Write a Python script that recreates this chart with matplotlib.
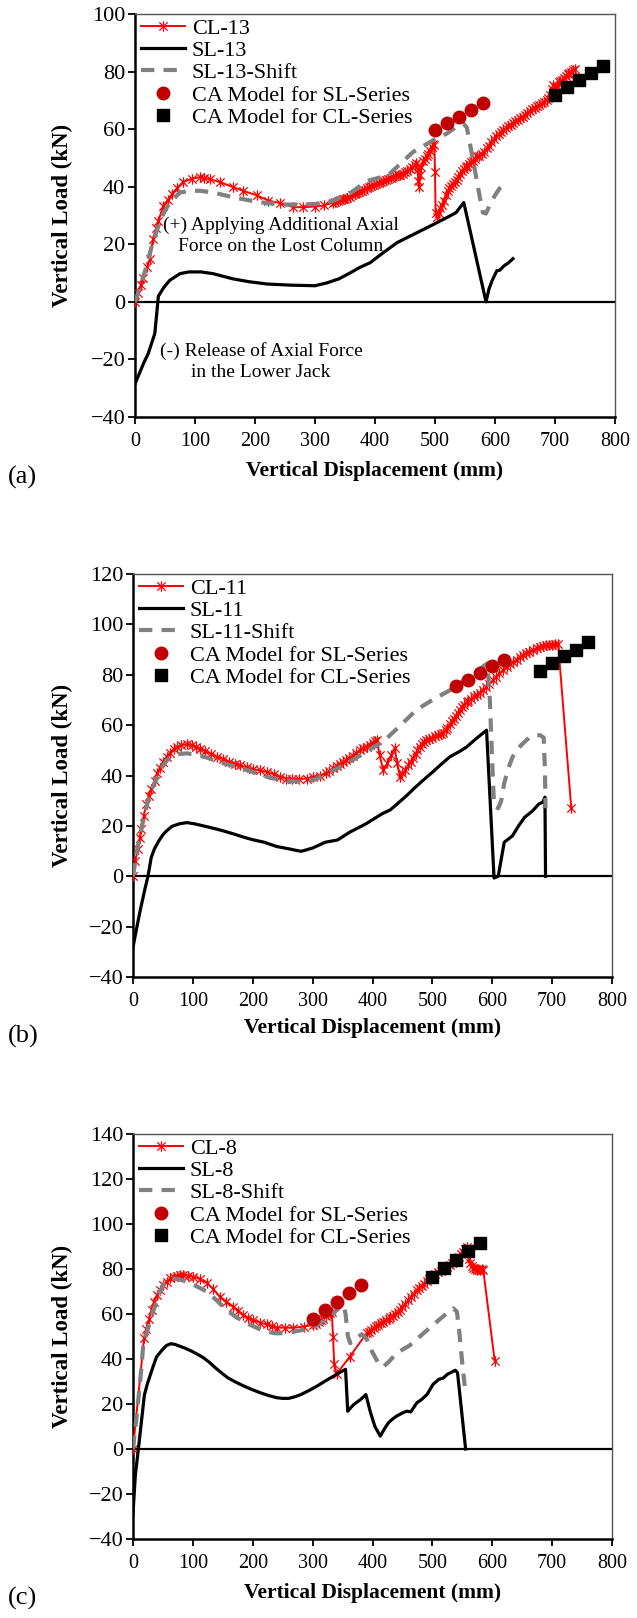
import glob
import matplotlib
matplotlib.use("Agg")
import matplotlib.pyplot as plt
from matplotlib import font_manager
from matplotlib.lines import Line2D
from matplotlib.path import Path

# Register any Liberation Serif files and pick a Times-like serif family
for f in glob.glob('/usr/share/fonts/**/LiberationSerif*.ttf', recursive=True):
    font_manager.fontManager.addfont(f)
available = {f.name for f in font_manager.fontManager.ttflist}
serif = next((n for n in ['Liberation Serif', 'Times New Roman', 'Nimbus Roman',
                          'Noto Serif', 'DejaVu Serif'] if n in available), 'serif')
plt.rcParams['font.family'] = [serif, 'DejaVu Serif']

# ---------------- Panel (a): CL-13 / SL-13 ----------------
cl13_x = [0, 5, 10, 14, 20, 25, 30, 35, 39, 47, 55, 62, 70, 80, 95, 108, 115, 125, 142, 164,
          180, 203, 222, 242, 264, 280, 300, 315, 330, 334, 338, 342, 346, 350, 354, 358, 362,
          366, 370, 374, 378, 382, 386, 390, 394, 398, 402, 406, 410, 414, 418, 422, 426, 430,
          434, 438, 442, 446, 450, 454, 458, 462, 466, 469, 471, 472, 474, 475, 477, 480, 483,
          486, 489, 492, 495, 497, 499, 500, 501, 503, 506, 509, 512, 515, 518, 521, 524, 527,
          530, 533, 536, 539, 542, 545, 548, 551, 554, 557, 560, 563, 566, 570, 574, 578, 582,
          586, 590, 594, 598, 602, 606, 610, 614, 618, 622, 626, 630, 634, 638, 642, 646, 650,
          654, 658, 662, 666, 670, 674, 678, 682, 686, 689, 692, 695, 697, 700, 703, 706, 709,
          712, 715, 718, 721, 724, 727, 730, 733]
cl13_y = [0, 3, 6, 8.4, 12, 15, 22, 25.5, 28, 33.4, 35.5, 37.5, 39.5, 41.6, 42.8, 43.3, 43, 42.6,
          41.6, 39.8, 38.6, 37, 35.2, 34.3, 32.9, 32.9, 33.1, 33.5, 34.5, 34.7, 35, 35.3, 35.6,
          35.8, 36.2, 36.6, 37.1, 37.5, 37.9, 38.3, 38.6, 39, 39.6, 40, 40.2, 40.6, 41, 41.3, 41.7,
          42, 42.3, 42.6, 43, 43.3, 43.7, 44, 44.2, 44.5, 45, 45.5, 46, 46.8, 47.5, 48.3, 46, 42,
          40, 44, 47, 49, 49.8, 50.5, 51.5, 52.5, 53.8, 55, 54.5, 45, 31, 29.5, 31, 32.5, 33.5,
          35, 37, 38.5, 39.5, 40.3, 41, 41.8, 42.5, 43.3, 44.3, 45.3, 46, 46.8, 47.3, 48, 48.6,
          49, 49.8, 50.5, 50.8, 51.3, 52.2, 53.3, 54.3, 55.5, 56.5, 57.5, 58.2, 59, 59.6, 60.3,
          61, 61.5, 62.2, 62.7, 63.3, 63.8, 64.3, 65, 65.5, 66.3, 67, 67.5, 68, 68.5, 69, 69.5,
          70.2, 70.8, 72, 74, 75.5, 74.5, 75, 76.3, 76.8, 77, 77.8, 78.3, 79, 79.5, 80, 80.6, 81]

sl13_x = [0, 7, 15, 22, 33, 39, 48, 58, 75, 90, 110, 130, 163, 190, 220, 260, 300, 320, 340, 358,
          375, 392, 410, 437, 460, 487, 520, 535, 548, 585, 590, 595, 603, 608, 615, 622, 630]
sl13_y = [-28.5, -25, -21, -18, -11, 2, 5, 7.5, 9.8, 10.4, 10.4, 9.8, 8, 7, 6.2, 5.8, 5.6, 6.6,
          8, 10, 12, 13.6, 16.5, 20.6, 23, 25.8, 29.3, 31, 34.5, 0, 4.5, 7.3, 10.8, 11, 12.5,
          13.5, 15]

sl13s_x = [0, 10, 20, 30, 40, 47, 55, 65, 75, 90, 108, 130, 164, 208, 253, 275, 300, 330, 360,
           387, 422, 463, 500, 520, 540, 547, 553, 560, 568, 575, 580, 585, 592, 600, 608, 617]
sl13s_y = [0, 6, 13, 21, 27, 30.5, 33.5, 36, 38, 38.5, 38.6, 38, 36.3, 34.6, 33.8, 33.8, 34, 35,
           38, 42, 44, 52, 56.5, 58.5, 61.5, 62, 60.6, 53, 44, 36, 31, 30.7, 34, 37, 39.5, 41.5]

ca_sl_a_x = [500, 520, 540, 560, 580]
ca_sl_a_y = [59.6, 62, 64.2, 66.6, 69]
ca_cl_a_x = [700, 720, 740, 760, 780]
ca_cl_a_y = [72, 74.6, 77, 79.4, 81.9]

# ---------------- Panel (b): CL-11 / SL-11 ----------------
cl11_x = [0, 4, 8, 11, 14, 18, 22, 26, 30, 36, 40, 45, 50, 56, 62, 68, 73, 80, 90, 98, 105, 112,
          120, 130, 140, 150, 160, 170, 179, 190, 200, 212, 223, 235, 246, 256, 266, 278, 290,
          300, 312, 323, 328, 334, 340, 345, 350, 356, 361, 367, 373, 379, 384, 390, 395, 400,
          404, 407, 412, 418, 425, 431, 437, 441, 446, 450, 455, 460, 464, 468, 472, 475, 479,
          482, 486, 490, 495, 500, 505, 510, 514, 518, 522, 525, 529, 532, 536, 539, 543, 546,
          550, 553, 557, 560, 565, 570, 575, 579, 584, 590, 595, 601, 606, 612, 618, 624, 630,
          635, 641, 646, 652, 657, 662, 668, 674, 680, 685, 690, 695, 700, 705, 710, 732]
cl11_y = [0, 6.2, 11, 15, 18.8, 24, 28.7, 32, 34.5, 38, 40.8, 43, 45.5, 47.4, 49, 50.5, 51.3, 52,
          52.4, 52, 51.5, 50.7, 49.8, 48.6, 47.4, 46.5, 45.5, 44.6, 44, 43.2, 42.5, 42, 41.4, 40.5,
          39.5, 38.8, 38.6, 38.6, 38.8, 39.3, 40, 40.8, 41.8, 43, 43.8, 44.5, 45.2, 46, 46.8,
          47.8, 49, 50, 50.8, 51.5, 52.3, 53, 53.5, 54, 48, 42, 45, 48, 51, 45, 39.5, 40.8, 42,
          44, 45.5, 47, 48.5, 50, 51.5, 52.5, 53.3, 54, 54.5, 55, 55.5, 56, 56.5, 57, 58, 59,
          60.3, 61.5, 62.6, 63.5, 65, 66, 67.2, 68, 69, 69.5, 70.5, 71.5, 72, 72.6, 73.8, 75,
          76.3, 77.8, 79, 80.5, 81.8, 83, 84.2, 85, 86, 87, 87.8, 88.5, 89.2, 89.8, 90.5, 91,
          91.4, 91.7, 91.8, 92, 92.2, 92.4, 27]

sl11_x = [0, 5, 12, 20, 25, 30.5, 36, 43, 50, 56, 65, 77, 90, 103, 117.5, 135, 151, 168, 185,
          200, 219, 240, 260, 270, 280.5, 290, 301, 321, 341.6, 362, 389, 416, 430, 445, 457,
          470, 484, 501, 515, 529, 545, 557, 575, 590.5, 603, 610, 620, 633.6, 644, 654, 667.6,
          677.8, 684.5, 688, 689]
sl11_y = [-28.2, -22, -13.6, -5, 0, 7.5, 11, 14, 16.5, 18, 19.8, 20.8, 21.3, 20.8, 20, 19, 18,
          16.8, 15.5, 14.5, 13.5, 11.8, 10.9, 10.4, 9.9, 10.5, 11.3, 13.5, 14.4, 17.5, 20.8, 24.8,
          26.4, 29.5, 32, 35, 38, 41.5, 44.5, 47.4, 49.5, 51.3, 55, 58, -0.7, 0, 13.5, 16, 20,
          23.4, 26, 28.7, 29.4, 31.4, 0]

sl11s_x = [0, 5, 10, 15, 20, 25, 32, 40, 48, 56, 65, 75, 90, 110, 125, 140, 160, 180, 205, 230,
           255, 280, 305, 334, 355, 380, 400, 417, 445, 473, 500, 529, 560, 592, 596, 600, 603,
           610, 615, 620, 627, 634, 648, 663, 672, 680, 686, 688, 689]
sl11s_y = [0, 8, 14, 20, 25, 30, 35, 39, 43, 46, 47.5, 48.5, 48.8, 48, 47, 45.5, 44.3, 43, 41,
           39, 38, 37.5, 38.5, 42, 44.5, 48, 51, 53.3, 59.5, 66, 70, 73.8, 79, 84.5, 70, 45, 28,
           27, 30, 37, 43, 47.4, 52, 55.3, 56, 56, 55, 42, 27]

ca_sl_b_x = [540, 560, 580, 600, 620]
ca_sl_b_y = [75.5, 78, 80.5, 83.5, 86]
ca_cl_b_x = [680, 700, 720, 740, 760]
ca_cl_b_y = [81.5, 84.5, 87.5, 90, 93]

# ---------------- Panel (c): CL-8 / SL-8 ----------------
cl8_x = [0, 18.4, 22, 27, 31, 35, 40, 45, 50, 56, 62, 68, 73, 78, 84, 92, 100.7, 112, 123, 134,
         145, 156, 167.4, 176, 184, 192, 201, 212, 223, 232, 240, 254, 267.6, 285, 301, 305, 310,
         314, 318, 322, 326, 329, 332, 334, 336, 340, 362, 390, 394, 398, 402, 406, 410, 414,
         418, 423, 427, 430, 434, 438, 442, 446, 450, 455, 460, 464, 469, 474, 478, 482, 486,
         491, 495, 500, 505, 510, 515, 520, 525, 529, 533, 537, 541, 544, 548, 551, 554, 557,
         559, 561, 563, 566, 568, 571, 574, 577, 580, 583, 585, 604]
cl8_y = [0, 49.2, 53.5, 58, 62, 65.5, 68.5, 70.7, 72.8, 74.4, 75.8, 76.5, 76.9, 77.2, 77.3, 77,
         76.6, 75.5, 74, 71, 67.7, 65.5, 63.3, 61.5, 59.6, 58.3, 57.3, 56.2, 55.4, 54.6, 54, 53.9,
         53.9, 54.4, 55.1, 55.6, 56.5, 57.2, 58, 59, 60, 60.5, 61, 50, 38, 33.3, 41, 51.4, 52.2,
         53, 53.8, 54.5, 55.2, 56, 56.6, 57.3, 58, 58.5, 59.2, 60, 60.8, 61.8, 63, 64.5, 66.2,
         67.5, 69, 70.7, 71.6, 72.5, 73.5, 74.5, 75.5, 76.6, 77.6, 78.5, 79.2, 80, 81, 81.8, 82.6,
         83.5, 84.6, 85.5, 86.6, 87.7, 88.8, 89.9, 88, 84.5, 82.5, 81.5, 80.5, 80, 79.6, 79.8,
         79.6, 79.8, 79.6, 39.3]

sl8_x = [0, 4, 9, 14, 19, 24, 29, 34, 39.4, 49.6, 56, 63, 70, 77, 87, 97, 107, 117.5, 128, 138,
         148, 158, 171, 185, 198, 212.6, 226, 240, 250, 260, 270, 280.5, 294, 307.6, 321, 335,
         345, 355, 358.6, 364, 369, 380, 389, 396, 404, 413, 420, 426.5, 433, 440, 450, 457, 464,
         474, 482, 491, 501, 511, 518, 525, 538.5, 542, 555.5]
sl8_y = [-28.5, -11.4, 0, 12, 24, 29, 33, 37, 41, 44.3, 46, 46.8, 46.5, 45.8, 44.8, 43.6, 42.2,
         40.6, 38.4, 36, 33.8, 31.7, 29.8, 28, 26.5, 25, 23.8, 22.8, 22.5, 22.5, 23.2, 24.2, 26,
         28, 30.2, 32.4, 34, 35.4, 16.8, 18.5, 19.8, 22, 24.2, 16.8, 10, 5.7, 9, 11.6, 13.2, 14.6,
         16, 16.8, 16.5, 20.5, 22, 24.2, 28.7, 31, 31.5, 33.2, 35, 33.9, 0]

sl8s_x = [0, 5, 10, 14, 17, 21, 25.5, 33.5, 40, 45, 52, 62, 75, 90, 105, 123, 140, 156, 173, 190,
          207, 223, 240, 254, 267.6, 285, 301, 316, 332, 345, 351, 355, 359, 363, 372, 382, 390,
          398, 410, 418, 428, 440, 452, 462, 475, 485, 505, 524, 535, 541, 545, 550, 554]
sl8s_y = [0, 12, 25, 36, 46, 50, 54, 61, 66, 70, 73.5, 75.9, 75.5, 74.4, 72.5, 70, 66, 61.8,
          58.5, 55.9, 53.8, 52.1, 51.4, 51.5, 52.1, 53, 54, 56.5, 59.5, 63, 64.8, 60, 50, 47, 49,
          51, 49, 44, 38, 36.5, 39, 42.5, 44.5, 46, 49, 51.4, 56, 60.3, 62.5, 61, 52, 38, 28]

ca_sl_c_x = [300, 320, 340, 360, 380]
ca_sl_c_y = [58, 62, 65.5, 69.5, 73]
ca_cl_c_x = [500, 520, 540, 560, 580]
ca_cl_c_y = [76.5, 80.5, 84, 88, 91.5]

x_ticks = [0, 100, 200, 300, 400, 500, 600, 700, 800]

# ---------------- styling ----------------
W, H = 637, 1618
fig = plt.figure(figsize=(W / 100, H / 100), dpi=100)

RED = '#FF0000'
DARKRED = '#C00000'
GREY = '#808080'

# Asterisk marker: an "x" plus a vertical stroke
ast = Path([(-1, -1), (1, 1), (-1, 1), (1, -1), (0, -1.25), (0, 1.25)],
           [Path.MOVETO, Path.LINETO] * 3)

red_kw = dict(color=RED, lw=1.4, marker=ast, markersize=7.5, markeredgewidth=0.9,
              markeredgecolor=RED, markerfacecolor='none')
blk_kw = dict(color='black', lw=2.3)
gry_kw = dict(color=GREY, lw=3.0, linestyle=(0, (3.2, 2.2)))
circ_kw = dict(linestyle='none', marker='o', markersize=9, color=DARKRED)
sq_kw = dict(linestyle='none', marker='s', markersize=8.5, color='black')


def px_box(left, top, right, bottom):
    return [left / W, 1 - bottom / H, (right - left) / W, (bottom - top) / H]


def make_panel(box, ymax, cl, sl, sls, casl, cacl, names, xlabel_y, letter, letter_y):
    ax = fig.add_axes(px_box(*box))
    ax.plot(cl[0], cl[1], zorder=3, **red_kw)
    ax.plot(sl[0], sl[1], zorder=4, **blk_kw)
    ax.plot(sls[0], sls[1], zorder=5, **gry_kw)
    ax.plot(casl[0], casl[1], zorder=6, **circ_kw)
    ax.plot(cacl[0], cacl[1], zorder=6, **sq_kw)
    ax.axhline(0, color='black', lw=1.6, zorder=2)

    ax.set_xlim(0, 800)
    ax.set_ylim(-40, ymax)
    ax.set_xticks(x_ticks)
    ax.set_yticks(list(range(-40, ymax + 1, 20)))
    ax.tick_params(axis='x', direction='out', length=5, width=1.3, pad=6, labelsize=14.5)
    ax.tick_params(axis='y', direction='out', length=5, width=1.3, pad=2, labelsize=16)
    for s in ('left', 'bottom'):
        ax.spines[s].set_linewidth(1.8)
        ax.spines[s].set_color('black')
    for s in ('top', 'right'):
        ax.spines[s].set_linewidth(1.0)
        ax.spines[s].set_color('#555555')

    handles = [
        Line2D([], [], **red_kw),
        Line2D([], [], **blk_kw),
        Line2D([], [], **gry_kw),
        Line2D([], [], **circ_kw),
        Line2D([], [], **sq_kw),
    ]
    leg = ax.legend(handles, names, loc='upper left', bbox_to_anchor=(0.012, 0.99),
                    frameon=False, fontsize=16, handlelength=2.0, handletextpad=0.3,
                    labelspacing=0.08, borderpad=0, borderaxespad=0, numpoints=1)
    leg.set_zorder(10)

    cx = (box[0] + box[2]) / 2 / W
    cy = 1 - (box[1] + box[3]) / 2 / H
    fig.text(cx, 1 - xlabel_y / H, 'Vertical Displacement (mm)', ha='center', va='center',
             fontsize=15.5, fontweight='bold')
    fig.text(62 / W, cy, 'Vertical Load (kN)', ha='center', va='center', rotation=90,
             fontsize=16.5, fontweight='bold')
    fig.text(8 / W, 1 - letter_y / H, letter, ha='left', va='center', fontsize=19)
    return ax


ax_a = make_panel((135, 14, 615, 417), 100, (cl13_x, cl13_y), (sl13_x, sl13_y),
                  (sl13s_x, sl13s_y), (ca_sl_a_x, ca_sl_a_y), (ca_cl_a_x, ca_cl_a_y),
                  ['CL-13', 'SL-13', 'SL-13-Shift', 'CA Model for SL-Series',
                   'CA Model for CL-Series'], 471, '(a)', 477)
ax_a.text(243, 26.5, '(+) Applying Additional Axial', ha='center', va='center', fontsize=14.0)
ax_a.text(243, 19.3, 'Force on the Lost Column', ha='center', va='center', fontsize=14.0)
ax_a.text(210, -17, '(-) Release of Axial Force', ha='center', va='center', fontsize=14.0)
ax_a.text(210, -24.4, 'in the Lower Jack', ha='center', va='center', fontsize=14.0)

make_panel((133, 574, 612, 977), 120, (cl11_x, cl11_y), (sl11_x, sl11_y),
           (sl11s_x, sl11s_y), (ca_sl_b_x, ca_sl_b_y), (ca_cl_b_x, ca_cl_b_y),
           ['CL-11', 'SL-11', 'SL-11-Shift', 'CA Model for SL-Series',
            'CA Model for CL-Series'], 1028, '(b)', 1036)

make_panel((133, 1134, 612, 1539), 140, (cl8_x, cl8_y), (sl8_x, sl8_y),
           (sl8s_x, sl8s_y), (ca_sl_c_x, ca_sl_c_y), (ca_cl_c_x, ca_cl_c_y),
           ['CL-8', 'SL-8', 'SL-8-Shift', 'CA Model for SL-Series',
            'CA Model for CL-Series'], 1593, '(c)', 1598)

fig.savefig('out.png', dpi=100)
